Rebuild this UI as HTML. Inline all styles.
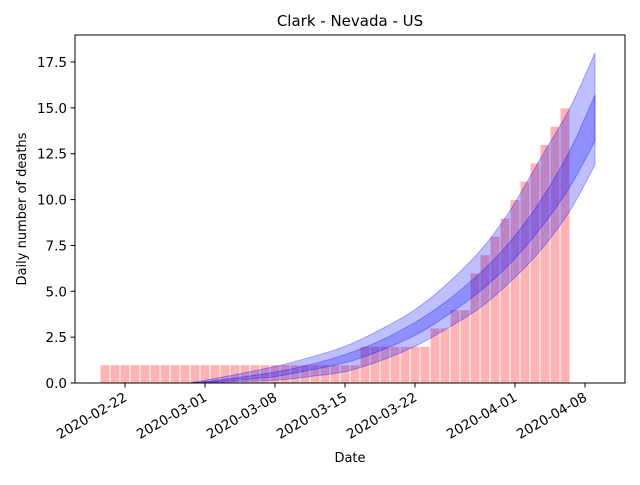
<!DOCTYPE html>
<html><head><meta charset="utf-8"><style>body{margin:0;background:#fff}svg{font-family:"DejaVu Sans","Liberation Sans",sans-serif}</style></head>
<body>
<svg id="chart" width="640" height="480">
<rect width="640" height="480" fill="#fff"/>
<text x="350" y="26" font-size="15" text-anchor="middle">Clark - Nevada - US</text>
<g id="plot"></g>
<rect x="75" y="35" width="550" height="348" fill="none" stroke="#000" stroke-width="1"/>
<text x="350" y="462" font-size="13" text-anchor="middle">Date</text>
<text transform="translate(26,209) rotate(-90)" font-size="13" text-anchor="middle">Daily number of deaths</text>
</svg>
<script>
const barStartDay=-2;
const barValues=[1,1,1,1,1,1,1,1,1,1,1,1,1,1,1,1,1,1,1,1,1,1,1,1,1,1,2,2,2,2,2,2,2,3,3,4,4,6,7,8,9,10,11,12,13,14,15];
const bandDays=[6.5,10,15,18.5,22,25.5,29,32,35.5,38.5,41.5,44.5,47];
const outerUpper=[0,0.35,0.9,1.4,2.0,2.9,4.0,5.3,7.2,9.4,12.2,15.0,18.0];
const innerUpper=[0,0.2,0.6,1.0,1.55,2.3,3.3,4.4,6.0,7.7,9.9,12.7,15.7];
const innerLower=[0,0.1,0.35,0.7,1.1,1.75,2.6,3.6,5.0,6.5,8.4,10.7,13.2];
const outerLower=[0,0.05,0.15,0.35,0.62,1.2,2.0,2.9,4.1,5.5,7.2,9.4,11.9];
const xTickDays=[0,8,15,22,29,39,46];
const xTickLabels=["2020-02-22","2020-03-01","2020-03-08","2020-03-15","2020-03-22","2020-04-01","2020-04-08"];
const yTicks=[0,2.5,5,7.5,10,12.5,15,17.5];
const yTickLabels=["0.0","2.5","5.0","7.5","10.0","12.5","15.0","17.5"];
const NS="http://www.w3.org/2000/svg";
const x=d=>125+d*10;
const y=v=>383-v*18.343;
const plot=document.getElementById('plot');
function mk(tag,attrs){const e=document.createElementNS(NS,tag);for(const k in attrs)e.setAttribute(k,attrs[k]);plot.appendChild(e);return e;}
barValues.forEach((v,i)=>{
  const r=mk('rect',{x:x(barStartDay+i)-5,y:y(v),width:10,height:y(0)-y(v),fill:'#ffb3b3',stroke:'#fff','stroke-width':1});
  
  
});
function smooth(pts){
  let d='';
  for(let i=1;i<pts.length;i++){
    const p=pts[i];
    const p0=pts[i-2]||pts[i-1],p1=pts[i-1],p3=pts[i+1]||p;
    const c1=[p1[0]+(p[0]-p0[0])/6,p1[1]+(p[1]-p0[1])/6];
    const c2=[p[0]-(p3[0]-p1[0])/6,p[1]-(p3[1]-p1[1])/6];
    d+='C'+c1+' '+c2+' '+p;
  }
  return d;
}
function band(up,lo,name){
  const u=bandDays.map((d,i)=>[x(d),y(up[i])]);
  const l=bandDays.map((d,i)=>[x(d),y(lo[i])]).reverse();
  const p=mk('path',{d:'M'+u[0]+smooth(u)+'L'+l[0]+smooth(l)+'Z',fill:'rgba(0,0,255,0.25)',stroke:'rgba(0,0,255,0.3)','stroke-width':1});
  
  
}
band(outerUpper,outerLower,'outer-band');
band(innerUpper,innerLower,'inner-band');
xTickDays.forEach((d,i)=>{
  const t=mk('line',{x1:x(d),x2:x(d),y1:383,y2:387.5,stroke:'#000'});
  
  
  const l=mk('text',{x:0,y:0,'font-size':13.5,'text-anchor':'end',transform:`translate(${x(d)+3},${400}) rotate(-30)`});
  l.textContent=xTickLabels[i];
  
  
});
yTicks.forEach((v,i)=>{
  const t=mk('line',{x1:70.5,x2:75,y1:y(v),y2:y(v),stroke:'#000'});
  
  
  const l=mk('text',{x:67,y:y(v)+5,'font-size':13.5,'text-anchor':'end'});
  l.textContent=yTickLabels[i];
  
  
});
</script>
</body></html>
